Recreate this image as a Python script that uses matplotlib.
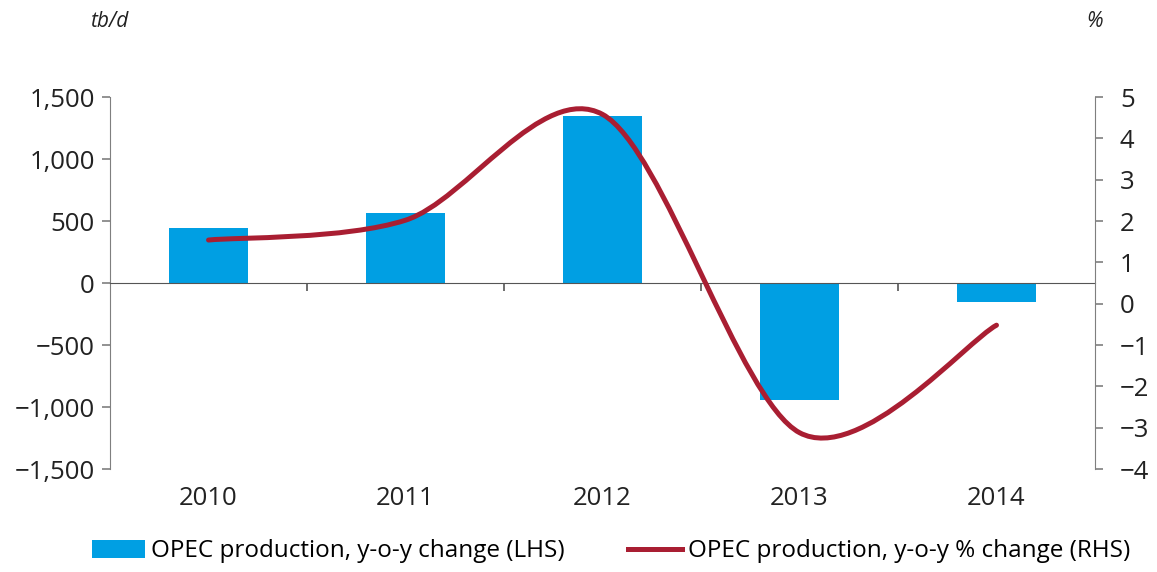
"""OPEC production change, bars (LHS) and smoothed % line (RHS)
"""
import matplotlib
matplotlib.use("Agg")
import matplotlib.pyplot as plt
from matplotlib.path import Path
from matplotlib.patches import PathPatch, Patch
from matplotlib.lines import Line2D
from matplotlib.ticker import FuncFormatter

years = ["2010", "2011", "2012", "2013", "2014"]
change_tbd = [443, 565, 1347, -944, -153]
change_pct = [1.54, 2.02, 4.58, -3.12, -0.52]

blue = "#009FE3"
red = "#A91E32"
grey = "#7f7f7f"

plt.rcParams["font.family"] = ["Open Sans", "DejaVu Sans"]
plt.rcParams["font.size"] = 18

fig = plt.figure(figsize=(11.57, 5.72), dpi=100)
ax = fig.add_axes([0.0951, 0.18, 0.8513, 0.6504])
ax2 = ax.twinx()

x = list(range(len(years)))

# Bars on the left axis
ax.bar(x, change_tbd, width=0.4, color=blue, zorder=2)
ax.set_xlim(-0.5, len(years) - 0.5)
ax.set_ylim(-1500, 1500)
ax.set_yticks([-1500, -1000, -500, 0, 500, 1000, 1500])
ax.yaxis.set_major_formatter(FuncFormatter(lambda v, p: "{:,.0f}".format(v).replace("-", "\u2212")))

# Smoothed line on the right axis (cubic bezier through the points)
ax2.set_ylim(-4, 5)
ax2.set_yticks(range(-4, 6))
ax2.yaxis.set_major_formatter(FuncFormatter(lambda v, p: "{:.0f}".format(v).replace("-", "\u2212")))

smooth = 1 / 6.5
pts = list(zip(x, change_pct))
verts = [pts[0]]
codes = [Path.MOVETO]
for i in range(len(pts) - 1):
    p0 = pts[i - 1] if i > 0 else pts[i]
    p1 = pts[i]
    p2 = pts[i + 1]
    p3 = pts[i + 2] if i + 2 < len(pts) else pts[i + 1]
    c1 = (p1[0] + (p2[0] - p0[0]) * smooth, p1[1] + (p2[1] - p0[1]) * smooth)
    c2 = (p2[0] - (p3[0] - p1[0]) * smooth, p2[1] - (p3[1] - p1[1]) * smooth)
    verts += [c1, c2, p2]
    codes += [Path.CURVE4] * 3
ax2.add_patch(PathPatch(Path(verts, codes), facecolor="none", edgecolor=red,
                        lw=3.6, capstyle="round", zorder=3))

# Spines and ticks
for a in (ax, ax2):
    a.spines["top"].set_visible(False)
    a.tick_params(colors=grey, labelcolor="#222222", labelsize=18.5, length=6, width=1.2)
ax.spines["right"].set_visible(False)
ax2.spines["left"].set_visible(False)
ax2.spines["bottom"].set_visible(False)
ax.spines["left"].set_color(grey)
ax2.spines["right"].set_color(grey)
ax.spines["bottom"].set_position(("data", 0))
ax.spines["bottom"].set_color("#555555")
ax.spines["bottom"].set_zorder(4)
ax.set_xticks([0.5, 1.5, 2.5, 3.5])
ax.set_xticklabels([])
ax.tick_params(axis="x", length=6, color="#555555")
ax.tick_params(axis="y", pad=5)
ax2.tick_params(axis="y", pad=12)

for xi, lab in zip(x, years):
    ax.text(xi, -1640, lab, ha="center", va="top", fontsize=18.5, color="#222222")

# Units
fig.text(0.094, 0.962, "tb/d", ha="center", va="center", style="italic", fontsize=15, color="#222222")
fig.text(0.946, 0.962, "%", ha="center", va="center", style="italic", fontsize=15, color="#222222")

# Legend
handles = [Patch(facecolor=blue), Line2D([0], [0], color=red, lw=3.6)]
labels = ["OPEC production, y-o-y change (LHS)", "OPEC production, y-o-y % change (RHS)"]
fig.legend(handles, labels, loc="center", bbox_to_anchor=(0.528, 0.036), ncol=2, frameon=False,
           fontsize=17.5, handlelength=2.2, handletextpad=0.25, columnspacing=2.6, handleheight=0.8)

fig.savefig("out.png", dpi=100)
plt.close(fig)
